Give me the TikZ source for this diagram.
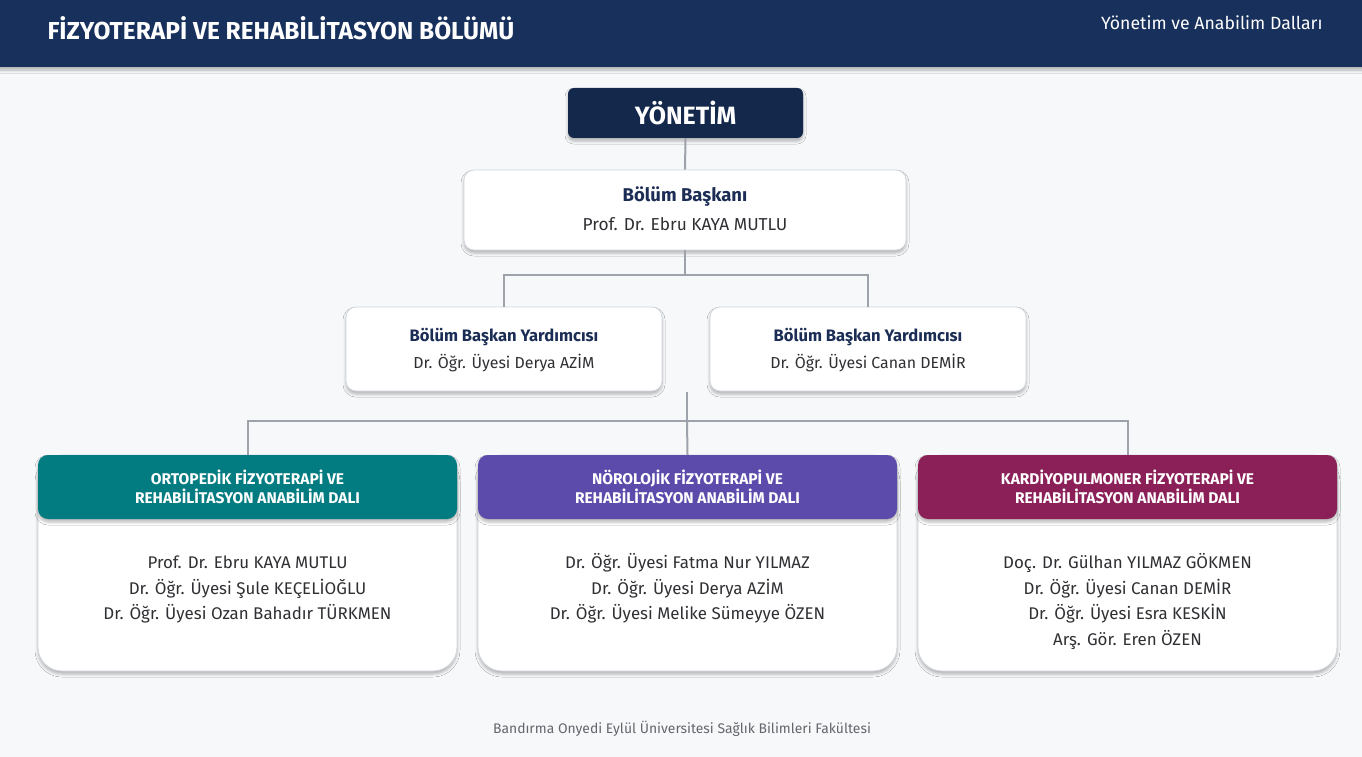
\documentclass[tikz,border=0pt]{standalone}
\usepackage{fontspec}
\setmainfont{Fira Sans}
\usetikzlibrary{shadows.blur}
\definecolor{barblue}{HTML}{17305C}
\definecolor{navy}{HTML}{14284B}
\definecolor{titlenavy}{HTML}{1B2D55}
\definecolor{pagebg}{HTML}{F6F8FA}
\definecolor{linegray}{HTML}{9EA2AA}
\definecolor{boxedge}{HTML}{D3D7DD}
\definecolor{namegray}{HTML}{2F3033}
\definecolor{footgray}{HTML}{63666C}
\definecolor{ortoteal}{HTML}{027C80}
\definecolor{noropurple}{HTML}{5C4BAB}
\definecolor{kardiomaroon}{HTML}{8B2059}

\begin{document}
\begin{tikzpicture}[x=1pt,y=-1pt,
    conn/.style={draw=linegray,line width=2pt},
    softshadow/.style={blur shadow={shadow xshift=0pt,shadow yshift=-3pt,shadow blur radius=3pt,shadow opacity=28}},
    infobox/.style={rectangle,rounded corners=10pt,fill=white,draw=boxedge,line width=.8pt,softshadow},
    boxtitle/.style={font=\bfseries\fontsize{18.5}{21}\selectfont,text=titlenavy,text height=.7em,text depth=0pt,inner sep=0pt},
    boxname/.style={font=\fontsize{17.3}{20}\selectfont,text=namegray,text height=.7em,text depth=0pt,inner sep=0pt},
    cardbody/.style={rectangle,rounded corners=24pt,fill=white,draw=boxedge,line width=.8pt,softshadow,minimum width=419,minimum height=216},
    cardhead/.style={rectangle,rounded corners=10pt,fill=#1,softshadow,minimum width=419,minimum height=64,align=center,text=white,font=\bfseries\fontsize{15.5}{19}\selectfont},
    person/.style={font=\fontsize{16.9}{20}\selectfont,text=namegray,text height=.7em,text depth=0pt,inner sep=0pt}]
    \useasboundingbox (0,0) rectangle (1362,757);
    \fill[pagebg] (0,0) rectangle (1362,757);
    \fill[barblue,softshadow] (-10,-10) rectangle (1372,67);
    \node[anchor=west,text=white,font=\bfseries\fontsize{24.5}{28}\selectfont] (title) at (44,28) {FİZYOTERAPİ VE REHABİLİTASYON BÖLÜMÜ};
    \node[anchor=east,text=white,font=\fontsize{17.7}{20}\selectfont] (subtitle) at (1326,23) {Yönetim ve Anabilim Dalları};

    \node[rectangle,rounded corners=6pt,fill=navy,softshadow,minimum width=235,minimum height=50,text=white,font=\bfseries\fontsize{25}{28}\selectfont] (yonetim) at (685.5,113) {YÖNETİM};

    \node[infobox,minimum width=442,minimum height=80] (baskan) at (685,210) {};
    \node[boxtitle] (baskanT) at (685,198) {Bölüm Başkanı};
    \node[boxname] (baskanN) at (685,227) {Prof. Dr. Ebru KAYA MUTLU};

    \node[infobox,minimum width=316,minimum height=84] (yrdA) at (504,349) {};
    \node[boxtitle,font=\bfseries\fontsize{16.6}{19}\selectfont] (yrdAT) at (504,338) {Bölüm Başkan Yardımcısı};
    \node[boxname,font=\fontsize{15.9}{19}\selectfont] (yrdAN) at (504,365) {Dr. Öğr. Üyesi Derya AZİM};
    \node[infobox,minimum width=316,minimum height=84] (yrdB) at (868,349) {};
    \node[boxtitle,font=\bfseries\fontsize{16.6}{19}\selectfont] (yrdBT) at (868,338) {Bölüm Başkan Yardımcısı};
    \node[boxname,font=\fontsize{15.9}{19}\selectfont] (yrdBN) at (868,365) {Dr. Öğr. Üyesi Canan DEMİR};

    \node[cardbody] (ortoB) at (247.5,563) {};
    \node[cardhead=ortoteal] (orto) at (247.5,487) {ORTOPEDİK FİZYOTERAPİ VE\\REHABİLİTASYON ANABİLİM DALI};
    \foreach \n [count=\i] in {Prof. Dr. Ebru KAYA MUTLU,Dr. Öğr. Üyesi Şule KEÇELİOĞLU,Dr. Öğr. Üyesi Ozan Bahadır TÜRKMEN}
        \node[person] (orto\i) at (247.5,539.5+25.5*\i) {\n};

    \node[cardbody] (noroB) at (687.5,563) {};
    \node[cardhead=noropurple] (noro) at (687.5,487) {NÖROLOJİK FİZYOTERAPİ VE\\REHABİLİTASYON ANABİLİM DALI};
    \foreach \n [count=\i] in {Dr. Öğr. Üyesi Fatma Nur YILMAZ,Dr. Öğr. Üyesi Derya AZİM,Dr. Öğr. Üyesi Melike Sümeyye ÖZEN}
        \node[person] (noro\i) at (687.5,539.5+25.5*\i) {\n};

    \node[cardbody] (kardioB) at (1127.5,563) {};
    \node[cardhead=kardiomaroon] (kardio) at (1127.5,487) {KARDİYOPULMONER FİZYOTERAPİ VE\\REHABİLİTASYON ANABİLİM DALI};
    \foreach \n [count=\i] in {Doç. Dr. Gülhan YILMAZ GÖKMEN,Dr. Öğr. Üyesi Canan DEMİR,Dr. Öğr. Üyesi Esra KESKİN,Arş. Gör. Eren ÖZEN}
        \node[person] (kardio\i) at (1127.5,539.5+25.5*\i) {\n};

    \coordinate (hub) at (687,392);
    \coordinate (bus) at (687,421);
    \draw[conn] (yonetim.south) -- (baskan.north);
    \draw[conn] (baskan.south) -- ++(0,25) -| (yrdA.north);
    \draw[conn] (baskan.south) -- ++(0,25) -| (yrdB.north);
    \draw[conn] (hub) -- (bus);
    \draw[conn] (orto.north) |- (bus) -| (kardio.north);
    \draw[conn] (bus) -- (noro.north);

    \node[font=\fontsize{13.9}{16}\selectfont,text=footgray] (footer) at (682,729) {Bandırma Onyedi Eylül Üniversitesi Sağlık Bilimleri Fakültesi};
\end{tikzpicture}
\end{document}
